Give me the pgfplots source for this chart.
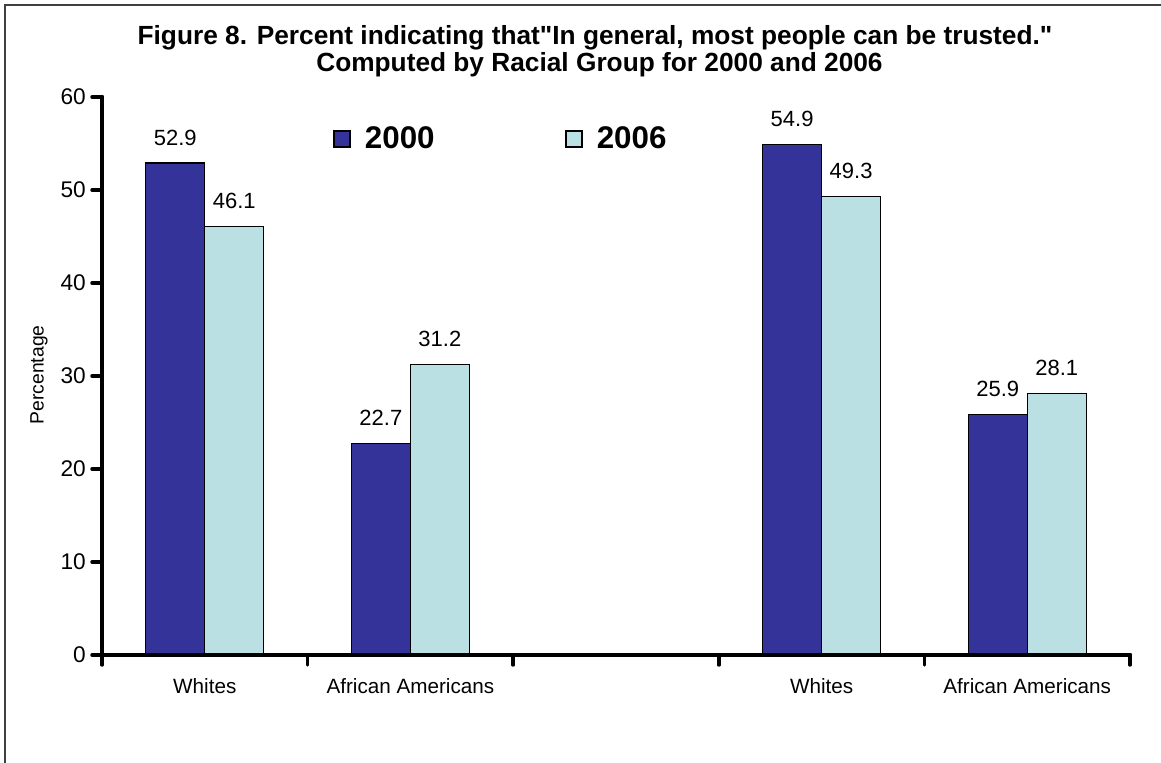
\documentclass[border=0pt]{standalone}
\usepackage{pgfplots}
\pgfplotsset{compat=1.18}
\usepackage{fontspec}
\setmainfont{Liberation Sans}[Ligatures=TeXOff]

\definecolor{bardark}{RGB}{51,51,153}
\definecolor{barlight}{RGB}{187,224,227}

\begin{document}
\begin{tikzpicture}
% page frame: 1161 x 763 px at 0.75pt per px
\useasboundingbox (0,0) rectangle (870.75pt,572.25pt);
\draw[line width=1.3pt, black!75] (3.75pt,0) -- (3.75pt,568.5pt) -- (872pt,568.5pt);

% title
\node[anchor=base, font=\bfseries\fontsize{19.7}{21}\selectfont, inner sep=0pt]
  at (446.25pt,538.5pt) {Figure 8. Percent indicating that"In general, most people can be trusted."};
\node[anchor=base, font=\bfseries\fontsize{19.7}{21}\selectfont, inner sep=0pt]
  at (449.6pt,518.25pt) {Computed by Racial Group for 2000 and 2006};

\begin{axis}[
  at={(76.5pt,81pt)}, anchor=south west,
  scale only axis, width=771pt, height=418.5pt,
  clip=false,
  ybar=0pt, bar width=44.25pt,
  xmin=-0.5, xmax=4.5, ymin=0, ymax=60,
  axis x line*=bottom, axis y line*=left,
  axis line style={line width=3pt, black, -, line cap=round},
  tick align=outside,
  major tick length=7.5pt,
  xtick={-0.5,0.5,1.5,2.5,3.5,4.5},
  xticklabels={},
  ytick={0,10,20,30,40,50,60},
  tick style={line width=2.6pt, black, line cap=round},
  extra x ticks={0,1,3,4},
  extra x tick labels={Whites,African Americans,Whites,African Americans},
  extra x tick style={major tick length=0pt, tick style={draw=none}},
  x tick label style={font=\fontsize{15.5}{17}\selectfont, anchor=base, inner sep=0pt, yshift=-29.25pt},
  y tick label style={font=\fontsize{17}{19}\selectfont, inner sep=0pt, anchor=east, xshift=-4.5pt},
  /pgf/number format/assume math mode=true,
  ylabel={Percentage},
  y label style={at={(axis description cs:-0.0612,0.502)}, anchor=center, rotate=0, font=\fontsize{14.5}{16}\selectfont},
  nodes near coords={\pgfmathprintnumber[fixed,fixed zerofill,precision=1,assume math mode=true]{\pgfplotspointmeta}},
  every node near coord/.append style={font=\fontsize{16.5}{18}\selectfont, anchor=base, inner sep=0pt, yshift=13.5pt, black},
  legend columns=2,
  legend style={at={(0.221,0.925)}, anchor=west, draw=none, fill=none,
    font=\bfseries\fontsize{23.5}{25}\selectfont,
    nodes={inner sep=0pt},
    /tikz/every odd column/.append style={column sep=10.5pt},
    /tikz/every even column/.append style={column sep=98pt}},
  legend image code/.code={\draw[#1, line width=1.1pt] (0pt,-6pt) rectangle (12pt,6pt);},
]
\addplot[fill=bardark, draw=black, line width=0.9pt]
  coordinates {(0,52.9) (1,22.7) (3,54.9) (4,25.9)};
\addplot[fill=barlight, draw=black, line width=0.9pt]
  coordinates {(0,46.1) (1,31.2) (3,49.3) (4,28.1)};
\legend{2000,2006}
% heavy axis lines and rounded tick marks
\draw[line width=3pt, line cap=round] (axis cs:-0.5,60) -- (axis cs:-0.5,0) -- (axis cs:4.5,0);
\pgfplotsinvokeforeach{0,10,20,30,40,50,60}{
  \draw[line width=2.6pt, line cap=round] (axis cs:-0.5,#1) -- ++(-6.5pt,0pt);
}
\pgfplotsinvokeforeach{-0.5,0.5,1.5,2.5,3.5,4.5}{
  \draw[line width=2.6pt, line cap=round] (axis cs:#1,0) -- ++(0pt,-7pt);
}
\end{axis}
\end{tikzpicture}
\end{document}
